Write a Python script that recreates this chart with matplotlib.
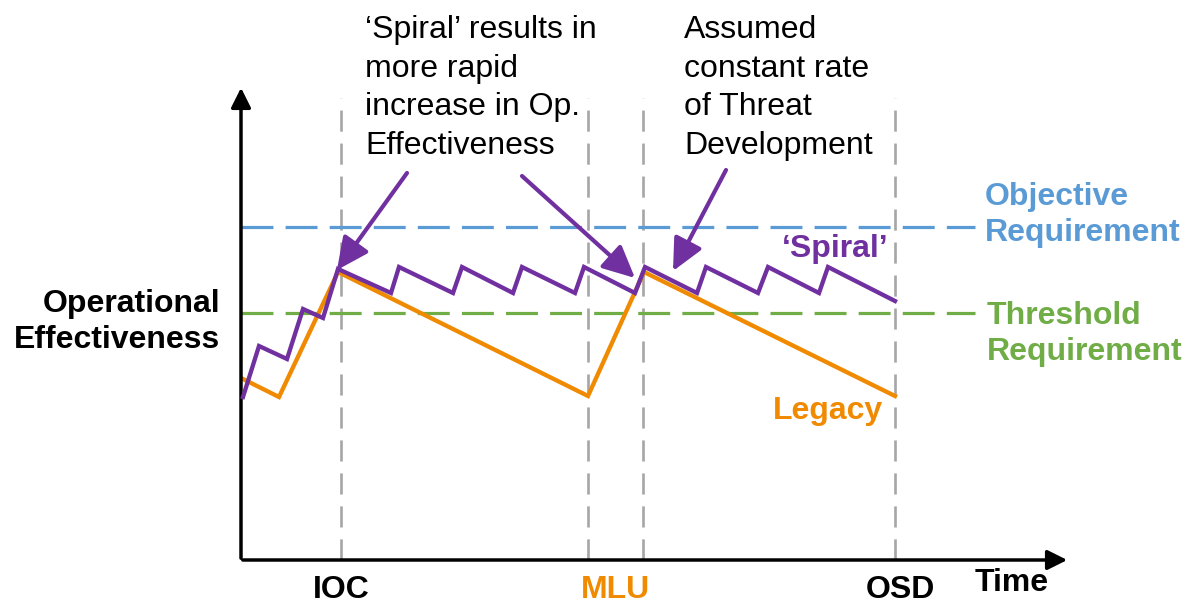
import matplotlib.pyplot as plt

plt.rcParams['font.family'] = ['Liberation Sans', 'DejaVu Sans']

# --- dados (tempo e efetividade em unidades arbitrárias) ---
legacy_t = [2, 38, 97, 347, 403, 654]
legacy_e = [181, 163, 288, 164, 288, 164]

spiral_t = [2, 18, 46, 62, 82, 97, 150, 158, 212, 221, 272, 281, 334, 343,
            394, 404, 456, 465, 517, 527, 578, 587, 654]
spiral_e = [163, 214, 201, 251, 242, 291, 267, 293, 267, 293, 267, 293, 267, 293,
            267, 293, 267, 293, 267, 293, 267, 293, 259]

marcos_t = [100, 347, 402, 654]
marcos_nomes = ['IOC', 'MLU', '', 'OSD']
marcos_cores = ['black', '#F08A00', 'black', 'black']

objetivo = 333
limiar = 247

# setas de anotação: (cauda, ponta)
setas = [((166, 387), (96, 290)),
         ((281, 384), (394, 282)),
         ((485, 390), (432, 289))]

ROXO = '#7030A0'
LARANJA = '#F08A00'
AZUL = '#5B9BD5'
VERDE = '#70AD47'
CINZA = '#A6A6A6'

fig = plt.figure(figsize=(11.86, 6.03), dpi=100)
ax = fig.add_axes([0, 0, 1, 1])
ax.set_xlim(-241, 945)
ax.set_ylim(-43, 560)
ax.axis('off')

# linhas verticais tracejadas (marcos)
for t in marcos_t:
    ax.plot([t, t], [0, 462], color=CINZA, lw=1.9, dashes=(8, 4.5), zorder=1)

# requisitos
ax.plot([0, 734], [objetivo, objetivo], color=AZUL, lw=2.3, dashes=(10, 3.8), zorder=1)
ax.plot([0, 734], [limiar, limiar], color=VERDE, lw=2.3, dashes=(10, 3.8), zorder=1)

# séries
ax.plot(legacy_t, legacy_e, color=LARANJA, lw=3.1, solid_joinstyle='miter', zorder=3)
ax.plot(spiral_t, spiral_e, color=ROXO, lw=3.1, solid_joinstyle='miter', zorder=4)

# eixos com setas
ax.annotate('', xy=(0, 475), xytext=(0, -1),
            arrowprops=dict(arrowstyle='-|>,head_length=0.6,head_width=0.3',
                            color='black', lw=2.5, mutation_scale=20))
ax.annotate('', xy=(829, 0), xytext=(-1, 0),
            arrowprops=dict(arrowstyle='-|>,head_length=0.6,head_width=0.3',
                            color='black', lw=2.5, mutation_scale=20))

# setas roxas
for cauda, ponta in setas:
    ax.annotate('', xy=ponta, xytext=cauda,
                arrowprops=dict(arrowstyle='-|>,head_length=0.75,head_width=0.36',
                                color=ROXO, lw=3, mutation_scale=26,
                                shrinkA=0, shrinkB=0), zorder=5)

# textos
fs = 23
ax.text(124, 472, '\u2018Spiral\u2019 results in\nmore rapid\nincrease in Op.\nEffectiveness',
        fontsize=fs, ha='left', va='center', linespacing=1.38)
ax.text(443, 472, 'Assumed\nconstant rate\nof Threat\nDevelopment',
        fontsize=fs, ha='left', va='center', linespacing=1.38)

ax.text(744, 345, 'Objective\nRequirement', color=AZUL, fontsize=fs, fontweight='bold',
        ha='left', va='center', linespacing=1.3)
ax.text(746, 226, 'Threshold\nRequirement', color=VERDE, fontsize=fs, fontweight='bold',
        ha='left', va='center', linespacing=1.3)
ax.text(594, 311, '\u2018Spiral\u2019', color=ROXO, fontsize=fs, fontweight='bold',
        ha='center', va='center')
ax.text(587, 149, 'Legacy', color=LARANJA, fontsize=fs, fontweight='bold',
        ha='center', va='center')
ax.text(-21, 238, 'Operational\nEffectiveness', fontsize=fs, fontweight='bold',
        ha='right', va='center', linespacing=1.3)

for t, nome, cor in zip(marcos_t, marcos_nomes, marcos_cores):
    if nome:
        dx = 27 if nome == 'MLU' else (5 if nome == 'OSD' else 0)
        ax.text(t + dx, -30, nome, color=cor, fontsize=fs, fontweight='bold',
                ha='center', va='center')
ax.text(771, -23, 'Time', fontsize=fs, fontweight='bold', ha='center', va='center')

fig.savefig('out.png', dpi=100)
